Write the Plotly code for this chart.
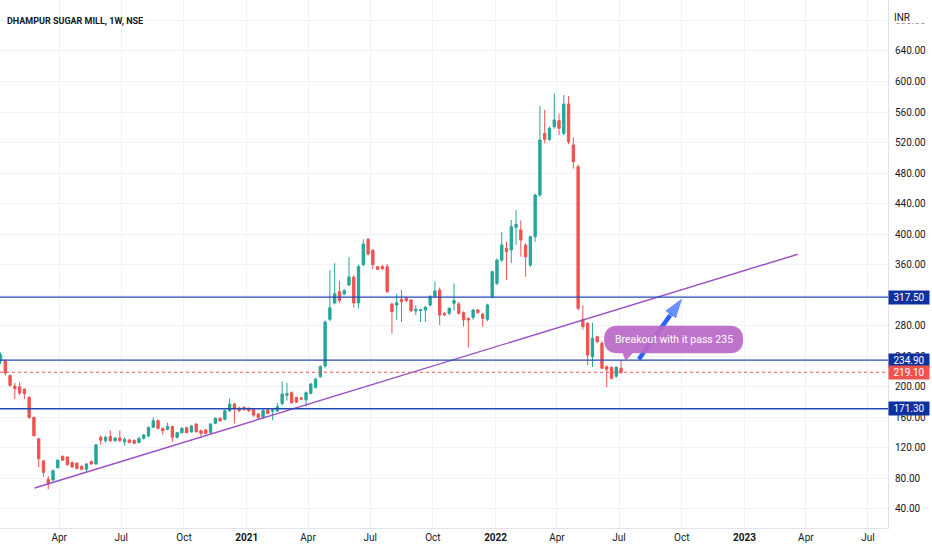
import pandas as pd
import plotly.graph_objects as go

# weekly candles, DHAMPUR SUGAR MILL (NSE)
first_week = "2020-01-06"
opens = [234, 234, 215, 201, 200, 197, 186, 160, 132, 103,
         79, 78, 94, 109, 108, 101, 100, 96, 92, 102,
         99, 134, 129.5, 135, 129.5, 133, 128, 130.4, 130, 127,
         132.6, 135.6, 147, 155.7, 145.7, 144.4, 148, 134, 140, 146.5,
         141, 151.4, 142.6, 143.5, 140, 152.2, 158.8, 157.5, 168.8, 177.6,
         172, 173, 172, 170.6, 164.5, 160, 169.7, 168, 168.4, 178,
         189, 192.4, 186, 185.5, 183, 191.5, 199.3, 213.4, 227.3, 288.5,
         310, 324.7, 321.7, 333.4, 343.5, 310, 360, 393.3, 379, 357.5,
         357.5, 357.5, 308.6, 307.2, 314.6, 316, 313.8, 299.5, 300, 300.7,
         307.2, 318.2, 326.9, 296.3, 296.3, 309.4, 308.6, 297.2, 289.8, 291,
         300.7, 295.4, 288.5, 318, 335.6, 366, 381.5, 379.3, 409, 405.5,
         385.8, 359.6, 396.8, 451.3, 532, 524, 540.9, 548.7, 532, 570.6,
         516.8, 488.5, 288.5, 283.2, 239.5, 265.7, 257, 226.5, 225.6, 214,
         224.3]
highs = [245, 236, 216, 205, 206, 198, 188, 161, 133, 104,
         83, 92, 105, 110, 109, 102, 101, 97, 100, 104,
         125, 136, 136, 143, 134, 143, 134, 132, 131, 134,
         138, 148, 160, 157, 146, 153, 149, 141, 147, 148,
         150, 152, 144, 145, 152, 160, 160, 170, 185, 179,
         174, 175, 173, 172, 165, 171, 171, 171, 179, 207,
         205, 194, 187, 187, 194, 205, 212, 228, 287, 353,
         362, 339, 328, 370, 346, 360, 393.3, 395, 380, 358,
         360, 361, 310, 322, 327, 318, 315, 307, 302, 306,
         320, 338, 330, 298, 304, 335.6, 311, 299, 291, 302,
         302, 296, 309, 352, 368, 403, 390, 418.6, 431.7, 418,
         388, 398, 453, 568, 562.7, 541, 584.5, 558, 582.3, 581,
         527, 491, 307, 285, 284, 267, 260, 228, 227, 227,
         235]
lows = [230, 215, 200, 184, 189, 184, 158, 135, 95, 82,
        66, 76, 93, 103, 97, 94, 92, 91, 88, 98,
        98, 124, 127, 128, 128, 128, 123, 126, 125, 126,
        131, 134, 146, 144, 137, 143, 128, 132, 139, 139,
        140, 140, 134, 138, 139, 151, 154, 156, 167, 152,
        167, 169, 167, 161, 158, 158, 164, 156, 167, 176,
        182, 178, 179, 183, 174, 190, 198, 212, 225, 286,
        308, 310, 320, 332, 304, 303, 358, 372, 354, 353,
        353, 323, 270, 288, 285, 311, 298, 294, 285, 285,
        305, 317, 281, 293, 294, 300, 295, 278.9, 251.8, 288,
        296, 279, 286, 316, 333, 364, 340, 362, 386, 370.5,
        344.3, 357, 390, 449, 519, 522, 538, 530, 530, 518,
        486, 300, 275, 228.6, 226, 257, 224, 199.4, 210, 212,
        217]
closes = [242, 218, 202, 198, 192, 191, 160, 136, 106, 88,
          73, 90, 104, 104, 98, 95, 93, 92, 99, 99,
          124, 130, 134, 129.5, 133, 129.5, 131, 127, 126, 132.6,
          137, 147, 155.7, 145.7, 142.6, 148, 134, 140, 145.7, 140,
          148.7, 141.3, 139, 139, 151.4, 158.8, 155.7, 168.8, 177.6, 172,
          168.8, 170.6, 168.8, 163, 160, 169, 165.3, 169.5, 174, 190.6,
          191, 179.3, 180, 184, 192.4, 203.7, 209.9, 226.5, 285, 303.5,
          322, 313, 326, 344, 310, 357.5, 387.2, 374, 360, 354,
          354.8, 324.7, 298.5, 310.3, 311.6, 313, 299.8, 301.5, 301.3, 304.2,
          318.2, 325.6, 294.1, 294.1, 302.9, 313, 296.3, 287.6, 287.6, 300.7,
          297.2, 289.8, 307.2, 350.9, 366.2, 385.8, 377, 409.8, 413, 392.4,
          370.5, 396.8, 451.3, 523.4, 524.3, 538.7, 549.6, 538.7, 570.6, 521.2,
          495, 302.9, 278.8, 241.7, 263.6, 259.2, 224.3, 223, 211.2, 225.6,
          219.1]

weeks = pd.date_range(first_week, periods=len(closes), freq="7D")

# drawings
level_values = [317.5, 234.9, 171.3]
last_price = 219.1
trend_dates = ["2020-02-25", "2023-03-20"]
trend_values = [67.5, 373.7]
arrow_dates = ["2022-07-30", "2022-10-03"]
arrow_values = [236.1, 317.5]
callout_date = "2022-09-19"
callout_value = 262.0
callout_text = "Breakout with it pass 235"

price_ticks = list(range(40, 681, 40))
date_ticks = ["2020-04-01", "2020-07-01", "2020-10-01", "2021-01-01", "2021-04-01",
              "2021-07-01", "2021-10-01", "2022-01-01", "2022-04-01", "2022-07-01",
              "2022-10-01", "2023-01-01", "2023-04-01", "2023-07-01"]
date_labels = ["Apr", "Jul", "Oct", "<b>2021</b>", "Apr", "Jul", "Oct", "<b>2022</b>",
               "Apr", "Jul", "Oct", "<b>2023</b>", "Apr", "Jul"]

GREEN = "#26a69a"
RED = "#ef5350"
BLUE_LINE = "#2448b5"
BLUE_TAG = "#0f319f"
TXT = "#131722"
GRID = "#f0f3fa"

fig = go.Figure()

fig.add_trace(go.Scatter(x=arrow_dates, y=arrow_values, mode="lines+markers",
                         line=dict(color="#2962ff", width=4.5),
                         marker=dict(symbol=["circle", "arrow"], size=[0, 23],
                                     angleref="previous", color="#2962ff"),
                         hoverinfo="skip", showlegend=False))

fig.add_trace(go.Candlestick(x=weeks, open=opens, high=highs, low=lows, close=closes,
                             increasing=dict(line=dict(color=GREEN, width=1), fillcolor=GREEN),
                             decreasing=dict(line=dict(color=RED, width=1), fillcolor=RED),
                             showlegend=False))

fig.add_trace(go.Scatter(x=trend_dates, y=trend_values, mode="lines",
                         line=dict(color="#9c4fc4", width=1.4),
                         hoverinfo="skip", showlegend=False))

for v in level_values:
    fig.add_shape(type="line", xref="paper", x0=0, x1=1, y0=v, y1=v,
                  line=dict(color=BLUE_LINE, width=1.3), layer="above")
    fig.add_annotation(xref="paper", x=1, xanchor="left", y=v, text=f"{v:.2f}",
                       showarrow=False, bgcolor=BLUE_TAG, width=38, height=11,
                       font=dict(color="white", size=10, family="Roboto"), borderpad=1)

fig.add_shape(type="line", xref="paper", x0=0, x1=1, y0=last_price, y1=last_price,
              line=dict(color=RED, width=1, dash="dot"), layer="above")
fig.add_annotation(xref="paper", x=1, xanchor="left", y=last_price, text=f"{last_price:.2f}",
                   showarrow=False, bgcolor=RED, width=38, height=11,
                   font=dict(color="white", size=10, family="Roboto"), borderpad=1)

# speech-bubble callout (pixel path around the anchor)
w2, h2, r = 69.5, 13.8, 13.8
pill = (f"M{-w2 + r},{h2} L{w2 - r},{h2} Q{w2},{h2} {w2},0 Q{w2},{-h2} {w2 - r},{-h2} "
        f"L-41,{-h2} L-48,-21.5 L-51,{-h2} L{-w2 + r},{-h2} "
        f"Q{-w2},{-h2} {-w2},0 Q{-w2},{h2} {-w2 + r},{h2} Z")
fig.add_shape(type="path", xsizemode="pixel", ysizemode="pixel",
              xanchor=callout_date, yanchor=callout_value, path=pill,
              fillcolor="rgba(186,104,200,0.92)", line=dict(width=0), layer="above")
fig.add_annotation(x=callout_date, y=callout_value, text=callout_text, showarrow=False,
                   font=dict(color="white", size=10.5, family="Roboto"))

fig.add_annotation(xref="paper", yref="paper", x=0.006, y=0.974, xanchor="left",
                   text="DHAMPUR SUGAR MILL, 1W, NSE", showarrow=False,
                   font=dict(color=TXT, size=9, family="Roboto", weight="bold"))
# INR sits over the top price label, half hiding it as in the original
fig.add_annotation(xref="paper", yref="paper", x=1.006, y=0.979, xanchor="left",
                   text="INR", showarrow=False, bgcolor="white", width=32, height=11,
                   align="left", borderpad=0,
                   font=dict(color=TXT, size=10, family="Roboto"))

fig.update_layout(
    width=932, height=550,
    margin=dict(l=0, r=44, t=0, b=22),
    paper_bgcolor="white", plot_bgcolor="white",
    font=dict(family="Roboto", size=10, color=TXT),
    hovermode=False,
    xaxis=dict(range=["2020-01-05 06:00", "2023-07-30 10:00"], rangeslider=dict(visible=False),
               tickvals=date_ticks, ticktext=date_labels, showgrid=True, gridcolor=GRID,
               showline=True, linecolor="#e0e3eb", ticks="", zeroline=False,
               tickfont=dict(size=10, color=TXT)),
    yaxis=dict(side="right", range=[15.1, 706.8], tickvals=price_ticks,
               ticktext=[f"{t:.2f}" for t in price_ticks], showgrid=True, gridcolor=GRID,
               showline=True, linecolor="#e0e3eb", ticks="", ticklen=0, zeroline=False,
               ticklabelstandoff=4, tickfont=dict(size=10, color=TXT)),
)

# page body has an 8px default margin; drop it so the 932x550 figure fills the window
fig.write_html("out.html", config={"displayModeBar": False},
               post_script="document.body.style.margin='0';")
